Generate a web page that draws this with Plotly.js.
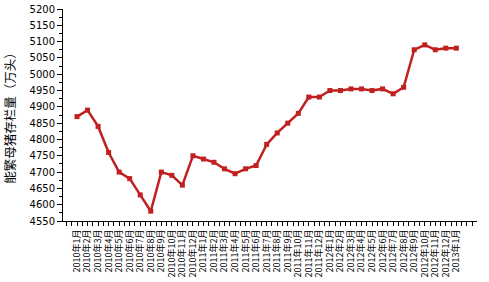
<!DOCTYPE html>
<html>
<head>
<meta charset="utf-8">
<script src="https://cdn.plot.ly/plotly-3.0.1.min.js"></script>
<style>html,body{margin:0;padding:0;background:#fff;}#chart{width:489px;height:282px;}</style>
</head>
<body>
<div id="chart"></div>
<script>
const months = [
  "2010年1月","2010年2月","2010年3月","2010年4月","2010年5月","2010年6月","2010年7月","2010年8月","2010年9月","2010年10月","2010年11月","2010年12月",
  "2011年1月","2011年2月","2011年3月","2011年4月","2011年5月","2011年6月","2011年7月","2011年8月","2011年9月","2011年10月","2011年11月","2011年12月",
  "2012年1月","2012年2月","2012年3月","2012年4月","2012年5月","2012年6月","2012年7月","2012年8月","2012年9月","2012年10月","2012年11月","2012年12月",
  "2013年1月"
];
const sows = [
  4870, 4890, 4840, 4760, 4700, 4680, 4630, 4580, 4700, 4690, 4660, 4750,
  4740, 4730, 4710, 4695, 4710, 4720, 4785, 4820, 4850, 4880, 4930, 4930,
  4950, 4950, 4955, 4955, 4950, 4955, 4940, 4960, 5075, 5090, 5075, 5080,
  5080
];
const yTitle = "能繁母猪存栏量（万头）";

const idx = months.map((_, i) => i);
const font = "'DejaVu Sans', 'Noto Sans CJK SC', sans-serif";

const trace = {
  x: idx, y: sows, type: "scatter", mode: "lines+markers",
  line: {color: "#c0201f", width: 2.5},
  marker: {color: "#c0201f", size: 5, symbol: "square"},
  hoverinfo: "skip"
};

const layout = {
  width: 489, height: 282,
  margin: {l: 63, r: 12, t: 9, b: 61},
  paper_bgcolor: "#fff", plot_bgcolor: "#fff",
  showlegend: false,
  xaxis: {
    range: [-1.33, 37.96],
    tickmode: "array", tickvals: idx, ticktext: months,
    tickangle: -90,
    tickfont: {family: "'Noto Sans CJK SC', sans-serif", size: 9, color: "#000"},
    ticks: "outside", ticklen: 4, tickcolor: "#000", tickwidth: 1,
    minor: {dtick: 0.5, tick0: 0, ticks: "outside", ticklen: 4, tickcolor: "#000", tickwidth: 1, showgrid: false},
    showline: true, linecolor: "#000", linewidth: 1,
    showgrid: false, zeroline: false, fixedrange: true
  },
  yaxis: {
    range: [4550, 5200],
    dtick: 50, tick0: 4550,
    tickfont: {family: font, size: 10, color: "#000"},
    ticks: "outside", ticklen: 5, tickcolor: "#000", tickwidth: 1,
    minor: {dtick: 25, ticks: "outside", ticklen: 3, tickcolor: "#000", tickwidth: 1, showgrid: false},
    showline: true, linecolor: "#000", linewidth: 1,
    showgrid: false, zeroline: false, fixedrange: true,
    title: {text: yTitle, font: {family: "'Noto Sans CJK SC', sans-serif", size: 12.5, color: "#000"}, standoff: 11}
  }
};

Plotly.newPlot("chart", [trace], layout, {displayModeBar: false, staticPlot: true});
</script>
</body>
</html>
